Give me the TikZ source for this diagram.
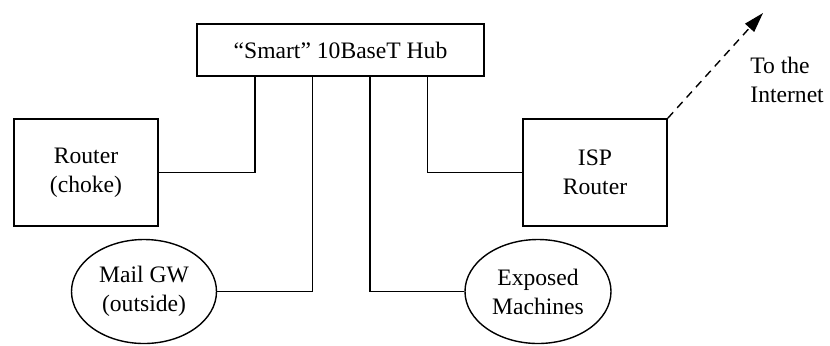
\documentclass[tikz,border=0pt]{standalone}
\usepackage{fontspec}
\setmainfont{Liberation Serif}
\usetikzlibrary{arrows.meta,shapes.geometric}
\begin{document}
\begin{tikzpicture}[x=0.5pt,y=-0.5pt,
  every node/.style={font=\fontsize{11.8}{14.5}\selectfont, align=center, inner sep=0pt},
  boxnode/.style={draw, line width=0.8pt, rectangle},
  ovalnode/.style={draw, line width=0.7pt, ellipse},
  wire/.style={line width=0.8pt},
  net/.style={line width=0.7pt, dash pattern=on 4pt off 3pt, -{Triangle[length=10pt,width=6pt]}}]
\useasboundingbox (0,0) rectangle (830,345);
\node[boxnode, minimum width=143.5pt, minimum height=26pt] (hub) at (340.5,50) {“Smart” 10BaseT Hub};
\node[boxnode, minimum width=72pt, minimum height=53.5pt] (router) at (86,172.5) {Router\\(choke)};
\node[boxnode, minimum width=72pt, minimum height=53.5pt] (isp) at (595,172.5) {ISP\\Router};
\node[ovalnode, minimum width=72.5pt, minimum height=52pt] (mail) at (144,291.5) {Mail GW\\(outside)};
\node[ovalnode, minimum width=73pt, minimum height=52pt] (exposed) at (538,291.5) {Exposed\\Machines};
\node[anchor=west, align=left] (inet) at (750,80) {To the\\Internet};
\coordinate (tip) at (763,13);
\draw[wire] (255,0 |- hub.south) |- (router.east);
\draw[wire] (312.5,0 |- hub.south) |- (mail.east);
\draw[wire] (370,0 |- hub.south) |- (exposed.west);
\draw[wire] (427.5,0 |- hub.south) |- (isp.west);
\draw[net] (isp.north east) -- (tip);
\end{tikzpicture}
\end{document}
